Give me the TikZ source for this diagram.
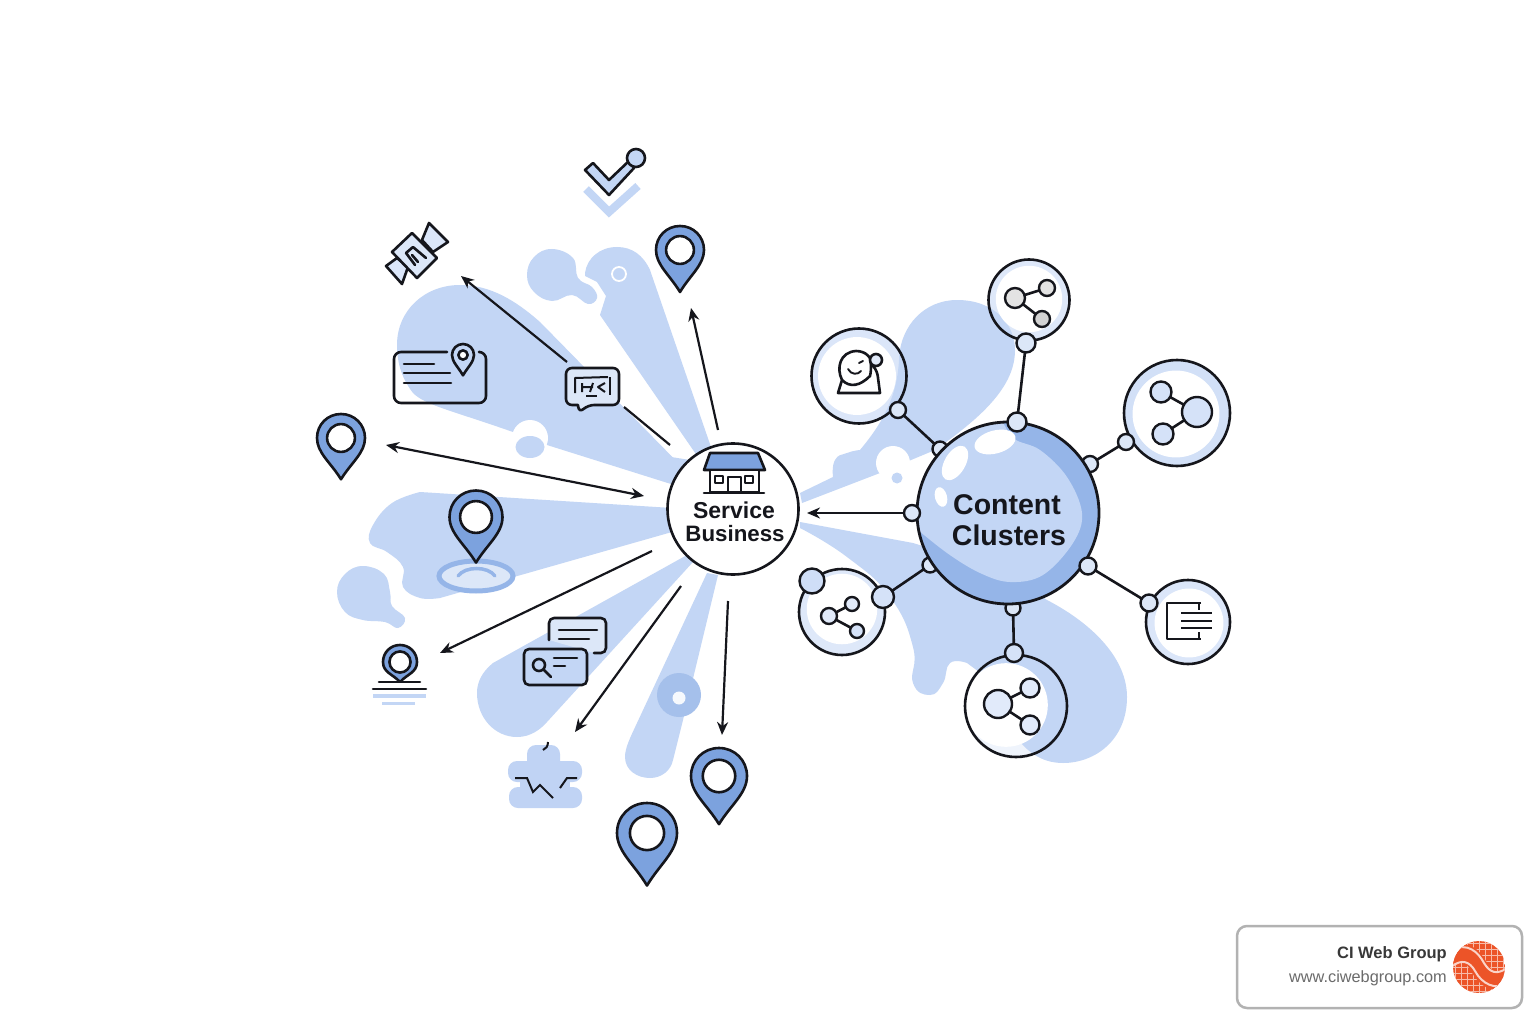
\documentclass[tikz,border=0pt]{standalone}
\usepackage{fontspec}
\setmainfont{Liberation Sans}
\usetikzlibrary{arrows.meta,shapes.geometric}
\definecolor{blob}{HTML}{C3D6F5}
\definecolor{mid}{HTML}{7CA2DE}
\definecolor{deep}{HTML}{95B5E8}
\definecolor{pale}{HTML}{DCE7F8}
\definecolor{ink}{HTML}{15161C}
\definecolor{orng}{HTML}{EC5428}
\tikzset{
  ln/.style={draw=ink,line width=2.6pt,line join=round,line cap=round},
  thin ln/.style={draw=ink,line width=2pt,line join=round},
  arr/.style={draw=ink,line width=2.2pt,-{Stealth[length=13pt,width=11pt]}},
  darr/.style={draw=ink,line width=2.2pt,{Stealth[length=13pt,width=11pt]}-{Stealth[length=13pt,width=11pt]}},
  bub/.style={circle,inner sep=0pt,outer sep=0pt,draw=ink,line width=2.6pt},
  knob/.style={circle,inner sep=0pt,outer sep=0pt,draw=ink,line width=2.4pt,fill=#1},
  knob/.default=pale,
  hl/.style={ellipse,fill=white,inner sep=0pt,outer sep=0pt},
  lbl/.style={font=\bfseries,text=ink,inner sep=0pt,anchor=center},
}
% pin: x y r tipdistance(in r) fill holeRatio
\newcommand{\mypin}[6]{%
\begin{scope}[shift={(#1,#2)},x=#3pt,y=-#3pt]
\path[ln,fill=#5] (0,#4) .. controls (-0.42,{0.6*#4}) and (-1,0.62) .. (-1,0)
  .. controls (-1,-0.56) and (-0.56,-1) .. (0,-1)
  .. controls (0.56,-1) and (1,-0.56) .. (1,0)
  .. controls (1,0.62) and (0.42,{0.6*#4}) .. cycle;
\path[ln,fill=white] (0,0) circle (#6);
\end{scope}}
\newcommand{\bubble}[7]{% name x y r dx dy rimopacity
\fill[blob,fill opacity=#7] (#2,#3) circle (#4);
\fill[white] ({#2+#5},{#3+#6}) circle ({#4*0.82});
\node[bub,minimum size={2*#4 pt}] (#1) at (#2,#3) {};}
\begin{document}
\begin{tikzpicture}[x=1pt,y=-1pt]
\useasboundingbox (0,0) rectangle (1536,1024);
\fill[white] (0,0) rectangle (1536,1024);
% ---- blobs ----
\fill[blob] (690,475) -- (513,432) .. controls (450,410) and (425,405) .. (413,393) .. controls (403,380) and (397,365) .. (397,345) .. controls (397,310) and (425,285) .. (460,285) .. controls (490,285) and (515,300) .. (540,322) -- cycle;
\fill[blob] (513,432) -- (547,445) -- (690,490) -- (690,460) -- cycle;
\fill[white] (530,438) circle (18);
\fill[blob] (530,447) ellipse (14.5 and 11);
\fill[blob] (712,450) -- (650,270) .. controls (643,255) and (632,247) .. (617,247) .. controls (600,247) and (587,258) .. (585,273) -- (585,276) -- (597,282) -- (606,296) -- (600,315) -- (700,460) -- cycle;
\fill[blob] plot[smooth cycle,tension=0.7] coordinates {(552,249) (573,258) (578,278) (592,287) (597,298) (588,304) (572,295) (552,301) (534,292) (527,275) (534,257)};
\draw[white,line width=1.8pt] (619,274) circle (7);
% left ray
\fill[blob] (672,508) -- plot[smooth,tension=0.7] coordinates {(420,492) (392,503) (373,525) (370,543) (387,552) (403,567) (403,587) (420,598) (440,598)} -- (672,532) -- cycle;
\fill[blob] plot[smooth cycle,tension=0.7] coordinates {(363,566) (384,574) (390,592) (392,606) (405,618) (398,628) (385,622) (363,620) (345,612) (337,592) (345,574)};
% lower ray
\fill[blob] (687,555) -- (493,663) .. controls (482,672) and (477,682) .. (477,693) .. controls (477,718) and (495,737) .. (517,737) .. controls (530,737) and (540,730) .. (547,722) -- (693,562) -- cycle;
% bottom ray
\fill[blob] (707,573) -- (637,723) .. controls (630,738) and (625,748) .. (625,757) .. controls (625,770) and (637,778) .. (650,778) .. controls (662,778) and (671,770) .. (673,760) -- (683,720) -- (718,575) -- cycle;
\fill[deep!85!white] (679,695) circle (22);
\fill[white!85!blob] (679,698) circle (6.5);
% right top
\fill[blob] (800,493) -- plot[smooth,tension=0.9] coordinates {(833,477) (835,460) (847,453) (860,450)} .. controls (885,420) and (897,395) .. (899,360) .. controls (900,325) and (925,300) .. (957,300) .. controls (995,300) and (1015,325) .. (1015,350) .. controls (1015,385) and (985,415) .. (935,450) -- (880,473) -- (802,503) -- cycle;
\fill[white] (893,463) circle (17);
\fill[blob] (897,478) circle (5.5);
% right bottom
\fill[blob] (800,522) -- (913,543) -- (1000,570) -- (1047,600) .. controls (1095,625) and (1127,660) .. (1127,697) .. controls (1127,740) and (1095,763) .. (1063,763) .. controls (1040,763) and (1025,750) .. (1013,733) -- (990,680) -- plot[smooth,tension=0.8] coordinates {(967,663) (950,663) (943,683) (930,695) (913,683) (913,647) (890,597) (847,557) (800,528)} -- cycle;
% ---- connectors behind ----
\node[knob,minimum size=15pt] (kbTL) at (940,449) {};
\node[knob,minimum size=16pt] (kbTR) at (1090,464) {};
\node[knob,minimum size=15pt] (kbBL) at (930,565) {};
\node[knob,minimum size=15pt] (kbB) at (1013,608) {};
% ---- main circle ----
\node[circle,inner sep=0pt,outer sep=0pt,minimum size=182pt,fill=deep] (cc) at (1008,513) {};
\begin{scope}
\clip (1008,513) circle (91);
\fill[blob] plot[smooth,tension=0.6] coordinates {(912,525) (947,553) (980,573) (1010,582) (1043,575) (1073,543) (1082,513) (1067,477) (1040,450) (1013,438) (1000,415)} -- (900,410) -- cycle;
\end{scope}
\node[hl,minimum width=42pt,minimum height=23pt,rotate=15] (h1) at (995,442) {};
\node[hl,minimum width=38pt,minimum height=21pt,rotate=60] (h2) at (955,463) {};
\node[hl,minimum width=20pt,minimum height=12pt,rotate=-75] (h3) at (941,497) {};
\node[bub,minimum size=182pt,line width=2.8pt] (ccb) at (1008,513) {};
\node[lbl,font=\fontsize{28.5}{30}\selectfont\bfseries] (cc1) at (1007,505) {Content};
\node[lbl,font=\fontsize{28.5}{30}\selectfont\bfseries] (cc2) at (1009,535) {Clusters};
% ---- bubbles ----
\bubble{b1}{1029}{300}{40.5}{0}{-1}{0.55}
\bubble{b2}{859}{376}{47.5}{-2}{0}{0.6}
\bubble{b3}{1177}{413}{53}{-1}{1}{0.75}
\bubble{b4}{1188}{622}{42}{1}{1}{0.6}
\bubble{b5}{1016}{706}{51}{-10}{-1}{0.25}
\bubble{b6}{842}{612}{43}{0}{-3}{0.55}
% knobs
\node[knob,minimum size=19pt] (k1) at (1026,343) {};
\node[knob,minimum size=19pt] (kb1) at (1017,422) {};
\node[knob,minimum size=16pt] (k2) at (898,410) {};
\node[knob,minimum size=16pt] (k3) at (1126,442) {};
\node[knob,minimum size=17pt] (k4) at (1149,603) {};
\node[knob,minimum size=17pt] (kb4) at (1088,566) {};
\node[knob=blob!70!white,minimum size=18pt] (k5) at (1014,653) {};
\node[knob=blob!70!white,minimum size=22pt] (k6) at (883,597) {};
\node[knob=blob!80!white,minimum size=25pt] (k6b) at (812,581) {};
\node[knob,minimum size=16pt] (kbL) at (912,513) {};
\draw[ln] (k1) -- (kb1);
\draw[ln] (k2) -- (kbTL);
\draw[ln] (k3) -- (kbTR);
\draw[ln] (k4) -- (kb4);
\draw[ln] (k5) -- (kbB);
\draw[ln] (k6) -- (kbBL);
% icons in bubbles
\node[knob=gray!22!white,minimum size=20pt] (i1a) at (1015,298) {};
\node[knob=gray!22!white,minimum size=16pt] (i1b) at (1047,288) {};
\node[knob=gray!35!white,minimum size=16pt] (i1c) at (1042,319) {};
\draw[ln] (i1a) -- (i1b); \draw[ln] (i1a) -- (i1c);
\node[knob=blob!70!white,minimum size=30pt] (i3a) at (1197,412) {};
\node[knob=blob!70!white,minimum size=21pt] (i3b) at (1161,392) {};
\node[knob=blob!70!white,minimum size=21pt] (i3c) at (1163,434) {};
\draw[ln] (i3a) -- (i3b); \draw[ln] (i3a) -- (i3c);
\node[knob=blob!50!white,minimum size=28pt] (i5a) at (998,704) {};
\node[knob=blob!50!white,minimum size=19pt] (i5b) at (1030,688) {};
\node[knob=blob!50!white,minimum size=19pt] (i5c) at (1030,725) {};
\draw[ln] (i5a) -- (i5b); \draw[ln] (i5a) -- (i5c);
\node[knob=blob!50!white,minimum size=16pt] (i6a) at (829,616) {};
\node[knob=blob!50!white,minimum size=14pt] (i6b) at (852,604) {};
\node[knob=blob!70!white,minimum size=14pt] (i6c) at (857,631) {};
\draw[ln] (i6a) -- (i6b); \draw[ln] (i6a) -- (i6c);
% doc icon
\draw[thin ln] (1201,603) -- (1167,603) -- (1167,639) -- (1201,639);
\draw[thin ln] (1199,603) -- (1199,610) (1199,632) -- (1199,639);
\draw[thin ln] (1181,613) -- (1212,613) (1181,621) -- (1212,621) (1181,628) -- (1212,628);
% face icon
\path[ln,fill=white] (838,393) -- (842,380) .. controls (836,368) and (840,352) .. (856,351) .. controls (866,351) and (872,358) .. (871,364) .. controls (878,370) and (878,378) .. (878,378) -- (880,393) -- cycle;
\path[ln] (842,380) .. controls (850,388) and (860,386) .. (870,376) .. controls (871,372) and (871,368) .. (871,364);
\path[ln,fill=blob!50!white] (876,360) circle (6);
\draw[ln,line width=1.9pt] (848,369) .. controls (851,375) and (858,375) .. (861,371);
\draw[ln,line width=1.9pt] (859,363) -- (863,361);
% ---- service circle ----
\node[bub,minimum size=131pt,fill=white] (sb) at (733,509) {};
\path[ln,fill=mid] (710,453) -- (758,453) -- (765,470) -- (704,470) -- cycle;
\path[ln,fill=white] (710,470) rectangle (759,492);
\draw[ln] (704,493) -- (764,493);
\draw[thin ln] (715,476) rectangle (723,483) (745,476) rectangle (753,483) (728,492) -- (728,477) -- (741,477) -- (741,492);
\node[lbl,font=\fontsize{23}{25}\selectfont\bfseries] (sb1) at (734,510) {Service};
\node[lbl,font=\fontsize{22.3}{25}\selectfont\bfseries] (sb2) at (735,534) {Business};
% ---- arrows ----
\coordinate (a1s) at (718,430); \coordinate (a1e) at (691,308);
\coordinate (a2s) at (567,362); \coordinate (a2e) at (461,276);
\coordinate (l3s) at (670,445); \coordinate (l3e) at (624,407);
\coordinate (a4s) at (386,445); \coordinate (a4e) at (644,496);
\coordinate (a5s) at (652,551); \coordinate (a5e) at (440,653);
\coordinate (a6s) at (681,586); \coordinate (a6e) at (575,732);
\coordinate (a7s) at (728,601); \coordinate (a7e) at (722,735);
\coordinate (a8e) at (807,513);
\draw[arr] (a1s) -- (a1e);
\draw[arr] (a2s) -- (a2e);
\draw[ink,line width=2.2pt] (l3s) -- (l3e);
\draw[darr] (a4s) -- (a4e);
\draw[arr] (a5s) -- (a5e);
\draw[arr] (a6s) -- (a6e);
\draw[arr] (a7s) -- (a7e);
\draw[arr] (kbL) -- (a8e);
% ---- pins ----
\mypin{680}{250}{24}{1.75}{mid}{0.58}
\mypin{341}{438}{24}{1.72}{mid}{0.58}
\mypin{719}{776}{28}{1.72}{mid}{0.58}
\mypin{647}{833}{30}{1.75}{mid}{0.57}
% ring below pin
\draw[deep,line width=5pt,fill=pale] (476,576) ellipse (37 and 15);
\draw[deep,line width=3.5pt,line cap=round] (458,576) .. controls (465,566) and (488,566) .. (495,576);
\mypin{476}{517}{26.5}{1.72}{mid}{0.6}
% small pin
\mypin{400}{662}{17}{1.18}{mid}{0.62}
\draw[ln] (379,682) -- (420,682);
\draw[ln] (373,689) -- (426,689);
\draw[blob,line width=3.5pt] (373,696) -- (426,696);
\draw[blob,line width=3pt] (382,703) -- (415,703);
% ---- check ----
\path[ln,fill=blob] (585,170) -- (593,163) -- (609,180) -- (630,160) -- (634,168) -- (609,195) -- cycle;
\path[ln,fill=blob] (636,158) circle (9);
\draw[blob,line width=8pt,line join=miter] (586,189) -- (609,212) -- (638,186);
% ---- satellite ----
\path[ln,fill=blob!60!white] (422,240) -- (429,223) -- (448,242) -- (433,252) -- cycle;
\path[ln,fill=blob!60!white] (386,266) -- (402,284) -- (408,267) -- (397,258) -- cycle;
\path[ln,fill=pale] (412,233) -- (437,258) -- (417,278) -- (392,252) -- cycle;
\draw[ln] (415,265) -- (406,253) -- (413,247) -- (426,258);
\draw[ln] (412,255) -- (418,262);
% ---- address card ----
\draw[ln,rounded corners=7pt] (447,352) -- (394,352) -- (394,403) -- (486,403) -- (486,352) -- (480,352);
\draw[ln] (404,364) -- (434,364) (404,373) -- (450,373) (404,383) -- (451,383);
\mypin{463}{355}{11}{1.85}{blob}{0.42}
% ---- chat ----
\path[ln,fill=pale,rounded corners=6pt] (566,368) -- (619,368) -- (619,405) -- (588,405) -- (579,413) [sharp corners] -- (578,405) [rounded corners=6pt] -- (566,405) -- cycle;
\draw[thin ln] (575,393) -- (575,378) -- (608,377);
\draw[thin ln] (610,377) -- (610,395);
\draw[thin ln] (582,383) -- (582,392) (582,387) -- (593,387) (593,383) -- (590,392);
\draw[thin ln] (605,383) -- (598,387) -- (605,392);
\draw[thin ln] (586,396) -- (597,396);
% ---- search cards ----
\path[ln,fill=pale,rounded corners=5pt] (549,640) -- (549,618) -- (606,618) -- (606,653) -- (594,653);
\draw[ln] (559,630) -- (597,630) (559,639) -- (589,639);
\path[ln,fill=blob,rounded corners=5pt] (524,649) rectangle (587,685);
\draw[ln] (539,665) circle (6) (543.5,669.5) -- (551,677);
\draw[ln] (554,658) -- (577,658) (554,666) -- (565,666);
% ---- broken cloud ----
\fill[blob!95!mid,rounded corners=9pt] (527,745) rectangle (560,770);
\fill[blob!95!mid,rounded corners=9pt] (508,761) rectangle (582,782);
\fill[blob!95!mid] (520,775) rectangle (570,795);
\fill[blob!95!mid,rounded corners=9pt] (509,787) rectangle (582,808);
\draw[ink,line width=2pt] (515,778) -- (527,778) -- (533,792) -- (540,785) -- (553,798);
\draw[ink,line width=2pt] (560,788) -- (567,778) -- (577,778);
\draw[ink,line width=2pt] (548,742) .. controls (548,746) and (546,749) .. (543,750);
% ---- logo box ----
\node[draw=black!30,line width=2.5pt,rounded corners=10pt,fill=white,minimum width=285pt,minimum height=82pt,inner sep=0pt] (box) at (1379.5,967) {};
\node[anchor=east,inner sep=0pt,font=\fontsize{16.5}{19}\selectfont\bfseries,text=black!78] (t1) at (1447,954) {CI Web Group};
\node[anchor=east,inner sep=0pt,font=\fontsize{16.3}{18}\selectfont,text=black!58] (t2) at (1447,978) {www.ciwebgroup.com};
\begin{scope}
\clip (1479,967) circle (26);
\fill[orng] (1453,941) rectangle (1505,993);
\foreach \i in {0,...,8}{
 \draw[white!60!orng,line width=0.8pt] ({1455+6*\i},941) -- ({1455+6*\i},993);
 \draw[white!60!orng,line width=0.8pt] (1453,{943+6*\i}) -- (1505,{943+6*\i});}
\draw[orng,line width=18pt] (1449,958) .. controls (1465,948) and (1472,955) .. (1479,967) .. controls (1486,979) and (1495,986) .. (1509,976);
\draw[white!75!orng,line width=2pt] (1451,950) .. controls (1468,942) and (1478,952) .. (1484,963) .. controls (1490,973) and (1497,975) .. (1507,968);
\draw[white!75!orng,line width=2pt] (1451,967) .. controls (1462,958) and (1470,962) .. (1475,971) .. controls (1482,984) and (1495,990) .. (1507,984);
\end{scope}
\end{tikzpicture}
\end{document}
